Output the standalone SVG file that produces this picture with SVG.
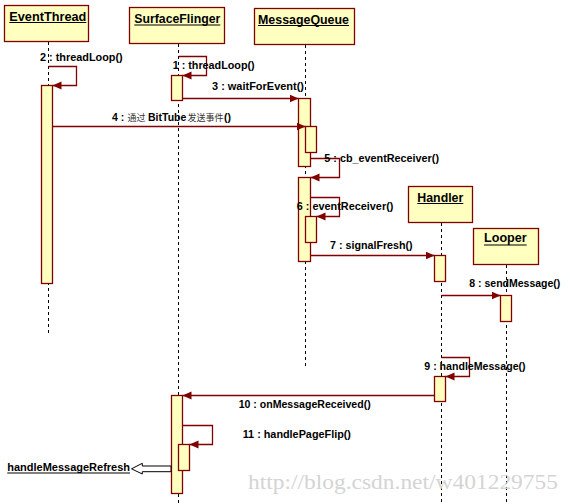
<svg xmlns="http://www.w3.org/2000/svg" width="570" height="504" viewBox="0 0 570 504">
<defs>
<style>
.hdr{fill:#FFFFC0;stroke:#800000;stroke-width:1.3}
.act{fill:#FFFFC0;stroke:#800000;stroke-width:1.3}
.life{stroke:#000;stroke-width:1;stroke-dasharray:3,3;fill:none}
.msg{stroke:#800000;stroke-width:1.3;fill:none;marker-end:url(#ah)}
.ht{font-family:"Liberation Sans","DejaVu Sans",sans-serif;font-weight:bold;font-size:12.7px;fill:#000}
.ul{stroke:#000;stroke-width:1.2}
.lbl{font-family:"Liberation Sans","DejaVu Sans",sans-serif;font-weight:bold;font-size:10.5px;fill:#000}
.cjk{font-family:"Noto Sans CJK SC","DejaVu Sans",sans-serif;font-weight:normal;font-size:9px;fill:#333}
.wm{font-family:"Liberation Serif","DejaVu Serif",serif;font-size:20px;fill:#d4d4d4}
</style>
<marker id="ah" markerUnits="userSpaceOnUse" markerWidth="10" markerHeight="9" refX="9" refY="4" orient="auto">
<path d="M0,0 L9,4 L0,8 z" fill="#800000"/>
</marker>
</defs>
<rect x="0" y="0" width="570" height="504" fill="#fff"/>

<g id="EventThread">
<line class="life" x1="48.5" y1="42" x2="48.5" y2="333"/>
<rect class="hdr" x="4.5" y="5.5" width="84" height="36"/>
<text class="ht" x="9.3" y="20.5" textLength="77" lengthAdjust="spacingAndGlyphs">EventThread</text>
<line class="ul" x1="9.3" y1="22.5" x2="86.3" y2="22.5"/>
<rect class="act" x="41.5" y="85.5" width="11" height="198"/>
</g>

<g id="SurfaceFlinger">
<line class="life" x1="178.5" y1="44" x2="178.5" y2="504"/>
<rect class="hdr" x="129.5" y="7.5" width="95" height="36"/>
<text class="ht" x="134.3" y="23" textLength="86" lengthAdjust="spacingAndGlyphs">SurfaceFlinger</text>
<line class="ul" x1="134.3" y1="25" x2="220.3" y2="25"/>
<rect class="act" x="171.5" y="75.5" width="11" height="25"/>
<rect class="act" x="171.5" y="395.5" width="11" height="98"/>
<rect class="act" x="178.5" y="444.5" width="11" height="26"/>
</g>

<g id="MessageQueue">
<line class="life" x1="305.5" y1="45" x2="305.5" y2="366"/>
<rect class="hdr" x="254.5" y="8.5" width="100" height="36"/>
<text class="ht" x="258" y="23.5" textLength="91" lengthAdjust="spacingAndGlyphs">MessageQueue</text>
<line class="ul" x1="258" y1="25.5" x2="349" y2="25.5"/>
<rect class="act" x="298.5" y="98.5" width="12" height="68"/>
<rect class="act" x="305.5" y="126.5" width="11" height="26"/>
<rect class="act" x="298.5" y="177.5" width="12" height="84"/>
<rect class="act" x="305.5" y="216.5" width="11" height="26"/>
</g>

<g id="Handler">
<line class="life" x1="441.5" y1="223" x2="441.5" y2="504"/>
<rect class="hdr" x="408.5" y="186.5" width="64" height="36"/>
<text class="ht" x="417.3" y="201.5" textLength="46" lengthAdjust="spacingAndGlyphs">Handler</text>
<line class="ul" x1="417.3" y1="203.5" x2="463.3" y2="203.5"/>
<rect class="act" x="434.5" y="255.5" width="11" height="26"/>
<rect class="act" x="434.5" y="376.5" width="11" height="25"/>
</g>

<g id="Looper">
<line class="life" x1="506.5" y1="265" x2="506.5" y2="504"/>
<rect class="hdr" x="473.5" y="228.5" width="65" height="36"/>
<text class="ht" x="484" y="242" textLength="42.7" lengthAdjust="spacingAndGlyphs">Looper</text>
<line class="ul" x1="484" y1="245" x2="526.7" y2="245"/>
<rect class="act" x="500.5" y="295.5" width="11" height="26"/>
</g>

<g id="connectors">
<polyline class="msg" points="178.5,56.5 206.5,56.5 206.5,75.5 182.5,75.5"/>
<polyline class="msg" points="48.5,66.5 76.5,66.5 76.5,85.5 52.5,85.5"/>
<line class="msg" x1="182.5" y1="98.5" x2="298.5" y2="98.5"/>
<line class="msg" x1="52.5" y1="126.5" x2="305.5" y2="126.5"/>
<polyline class="msg" points="310.5,158.5 339.5,158.5 339.5,177.5 310.5,177.5"/>
<polyline class="msg" points="310.5,197.5 339.5,197.5 339.5,216.5 316.5,216.5"/>
<line class="msg" x1="310.5" y1="255.5" x2="434.5" y2="255.5"/>
<line class="msg" x1="441.5" y1="295.5" x2="500.5" y2="295.5"/>
<polyline class="msg" points="441.5,357.5 469.5,357.5 469.5,376.5 445.5,376.5"/>
<line class="msg" x1="434.5" y1="395.5" x2="182.5" y2="395.5"/>
<polyline class="msg" points="182.5,425.5 212.5,425.5 212.5,444.5 189.5,444.5"/>
<path d="M171,466 L142.3,466 L142.3,463.3 L131.5,468.8 L142.3,474 L142.3,471.7 L171,471.7 z" fill="#fff" stroke="#000" stroke-width="1"/>
</g>

<g id="labels">
<text class="lbl" x="40" y="60.5" textLength="82.7" lengthAdjust="spacingAndGlyphs">2 : threadLoop()</text>
<text class="lbl" x="172.7" y="69" textLength="82" lengthAdjust="spacingAndGlyphs">1 : threadLoop()</text>
<text class="lbl" x="212" y="90" textLength="92" lengthAdjust="spacingAndGlyphs">3 : waitForEvent()</text>
<text class="lbl" y="120.5"><tspan x="112">4 :</tspan><tspan class="cjk" x="127.5">通过</tspan><tspan x="148">BitTube</tspan><tspan class="cjk" x="187.5">发送事件</tspan><tspan x="224">()</tspan></text>
<text class="lbl" x="324.3" y="161.5" textLength="114.7" lengthAdjust="spacingAndGlyphs">5 : cb_eventReceiver()</text>
<text class="lbl" x="296.7" y="210" textLength="96.7" lengthAdjust="spacingAndGlyphs">6 : eventReceiver()</text>
<text class="lbl" x="330" y="249.3" textLength="82.7" lengthAdjust="spacingAndGlyphs">7 : signalFresh()</text>
<text class="lbl" x="469.3" y="286.5" textLength="91" lengthAdjust="spacingAndGlyphs">8 : sendMessage()</text>
<text class="lbl" x="424.3" y="370" textLength="101.3" lengthAdjust="spacingAndGlyphs">9 : handleMessage()</text>
<text class="lbl" x="238.7" y="407.7" textLength="132" lengthAdjust="spacingAndGlyphs">10 : onMessageReceived()</text>
<text class="lbl" x="242.7" y="438.3" textLength="108.3" lengthAdjust="spacingAndGlyphs">11 : handlePageFlip()</text>
<text class="lbl" x="7.3" y="471" textLength="122.7" lengthAdjust="spacingAndGlyphs">handleMessageRefresh</text>
<line class="ul" x1="7.3" y1="473" x2="130" y2="473"/>
<text class="wm" x="248" y="488.5" textLength="310" lengthAdjust="spacingAndGlyphs">http://blog.csdn.net/w401229755</text>
</g>
</svg>
